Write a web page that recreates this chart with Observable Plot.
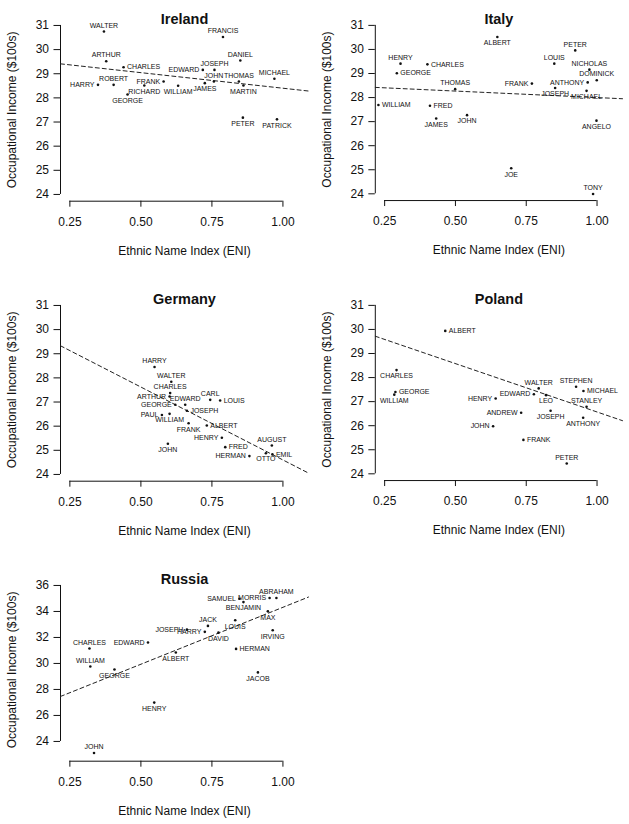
<!DOCTYPE html>
<html><head><meta charset="utf-8">
<script src="https://cdn.jsdelivr.net/npm/d3@7"></script>
<script src="https://cdn.jsdelivr.net/npm/@observablehq/plot@0.6"></script>
<style>
body{margin:0;background:#fff;font-family:"Liberation Sans",Arial,sans-serif;}
#grid{display:grid;grid-template-columns:315px 314px;grid-auto-rows:280px;width:629px;}
#grid svg{display:block;}
</style></head><body><div id="grid"></div>
<script>
// ---- data ----
const xTicks = [0.25, 0.5, 0.75, 1.0];
const yTicksMain = [24, 25, 26, 27, 28, 29, 30, 31];
const yTicksRussia = [24, 26, 28, 30, 32, 34, 36];

const countries = ["Ireland", "Italy", "Germany", "Poland", "Russia"];
const fitIntercept = [29.69, 28.54, 30.64, 30.59, 25.56];
const fitSlope = [-1.29, -0.54, -6.04, -4.02, 8.76];

const irelandNames = ["WALTER","FRANCIS","ARTHUR","DANIEL","CHARLES","EDWARD","JOSEPH","MICHAEL","HARRY","ROBERT","FRANK","RICHARD","WILLIAM","JAMES","JOHN","THOMAS","MARTIN","GEORGE","PETER","PATRICK"];
const irelandENI = [0.370,0.789,0.378,0.850,0.439,0.718,0.759,0.970,0.349,0.404,0.580,0.512,0.631,0.725,0.757,0.845,0.861,0.453,0.859,0.979];
const irelandIncome = [30.75,30.52,29.52,29.55,29.27,29.16,29.16,28.79,28.54,28.54,28.68,28.51,28.50,28.61,28.68,28.68,28.51,28.14,27.18,27.11];
const irelandLabelSide = ["a","a","a","a","r","l","a","a","l","a","l","b","b","b","a","a","b","b","b","b"];

const italyNames = ["ALBERT","PETER","HENRY","CHARLES","LOUIS","NICHOLAS","DOMINICK","GEORGE","ANTHONY","FRANK","THOMAS","JOSEPH","MICHAEL","WILLIAM","FRED","JOHN","JAMES","ANGELO","JOE","TONY"];
const italyENI = [0.648,0.923,0.306,0.401,0.849,0.973,0.999,0.293,0.967,0.770,0.499,0.852,0.963,0.228,0.410,0.541,0.432,0.998,0.697,0.986];
const italyIncome = [30.52,29.96,29.41,29.38,29.41,29.16,28.72,29.01,28.63,28.58,28.35,28.40,28.28,27.69,27.66,27.27,27.13,27.04,25.06,23.99];
const italyLabelSide = ["b","a","a","r","a","a","a","r","l","l","a","b","b","r","r","b","b","b","b","a"];

const germanyNames = ["HARRY","WALTER","CHARLES","ARTHUR","CARL","LOUIS","EDWARD","GEORGE","JOSEPH","WILLIAM","PAUL","FRANK","ALBERT","HENRY","JOHN","AUGUST","FRED","OTTO","EMIL","HERMAN"];
const germanyENI = [0.548,0.607,0.603,0.601,0.744,0.779,0.656,0.621,0.662,0.601,0.574,0.668,0.732,0.785,0.595,0.961,0.797,0.940,0.963,0.882];
const germanyIncome = [28.45,27.84,27.37,27.23,27.09,27.06,26.89,26.89,26.64,26.51,26.46,26.12,26.03,25.52,25.27,25.20,25.13,24.88,24.83,24.76];
const germanyLabelSide = ["a","a","a","l","a","r","a","l","r","b","l","b","r","l","b","a","r","b","r","l"];

const polandNames = ["ALBERT","CHARLES","GEORGE","WILLIAM","WALTER","STEPHEN","MICHAEL","EDWARD","LEO","HENRY","STANLEY","JOSEPH","ANDREW","ANTHONY","JOHN","FRANK","PETER"];
const polandENI = [0.464,0.292,0.288,0.284,0.794,0.926,0.952,0.777,0.820,0.642,0.963,0.836,0.732,0.951,0.633,0.740,0.893];
const polandIncome = [29.94,28.31,27.40,27.29,27.55,27.62,27.44,27.31,27.27,27.13,26.79,26.62,26.54,26.33,25.98,25.41,24.43];
const polandLabelSide = ["r","b","r","b","a","a","r","l","b","l","a","b","l","b","l","r","a"];

const russiaNames = ["ABRAHAM","MORRIS","SAMUEL","BENJAMIN","MAX","LOUIS","JACK","JOSEPH","HARRY","DAVID","IRVING","EDWARD","CHARLES","HERMAN","ALBERT","WILLIAM","GEORGE","JACOB","HENRY","JOHN"];
const russiaENI = [0.977,0.953,0.847,0.861,0.947,0.832,0.736,0.662,0.725,0.773,0.964,0.525,0.319,0.835,0.623,0.322,0.407,0.912,0.547,0.335];
const russiaIncome = [35.03,35.03,34.98,34.72,34.01,33.32,32.89,32.60,32.43,32.37,32.55,31.61,31.15,31.12,30.84,29.77,29.54,29.31,26.99,23.11];
const russiaLabelSide = ["a","l","l","b","b","b","a","l","l","b","b","l","a","r","b","a","b","b","b","a"];

// ---- drawing ----
const FONT = "'Liberation Sans', Arial, Helvetica, sans-serif";
const xDomain = [0.217, 1.09];

function panel(i, names, eni, income, side, yDomain, yTicks) {
  const data = names.map((n, k) => ({name: n, x: eni[k], y: income[k], side: side[k]}));
  const fit = xDomain.map(x => ({x, y: fitIntercept[i] + fitSlope[i] * x}));
  const tb = {x: "x", y: "y", text: "name", fontSize: 7, fill: "#111"};
  return Plot.plot({
    width: 315, height: 280,
    marginLeft: 60, marginRight: 7, marginTop: 18.2, marginBottom: 79.3,
    style: {fontFamily: FONT, background: "white", overflow: "visible", color: "#111"},
    x: {domain: xDomain},
    y: {domain: yDomain},
    marks: [
      Plot.axisX({ticks: xTicks, tickFormat: d3.format(".2f"), tickSize: 6, tickPadding: 10, fontSize: 12,
        label: "Ethnic Name Index (ENI)", labelAnchor: "center", labelArrow: "none", labelOffset: 54}),
      Plot.axisY({ticks: yTicks, tickFormat: d3.format("d"), tickSize: 6.5, tickPadding: 5, fontSize: 12,
        label: "Occupational Income ($100s)", labelAnchor: "center", labelArrow: "none", labelOffset: 53}),
      Plot.ruleX([xDomain[0]], {y1: yTicks[0], y2: yTicks[yTicks.length - 1], stroke: "#111"}),
      Plot.ruleY([yDomain[0]], {x1: xTicks[0], x2: xTicks[xTicks.length - 1], stroke: "#111"}),
      Plot.line(fit, {x: "x", y: "y", stroke: "#222", strokeWidth: 1, strokeDasharray: "4,3"}),
      Plot.dot(data, {x: "x", y: "y", r: 1.3, fill: "#111"}),
      Plot.text(data.filter(d => d.side === "a"), {...tb, dy: -6}),
      Plot.text(data.filter(d => d.side === "b"), {...tb, dy: 6}),
      Plot.text(data.filter(d => d.side === "l"), {...tb, textAnchor: "end", dx: -3.5}),
      Plot.text(data.filter(d => d.side === "r"), {...tb, textAnchor: "start", dx: 3.5}),
      Plot.text([countries[i]], {frameAnchor: "top", dy: -5, fontSize: 14.5, fontWeight: "bold", fill: "#111"})
    ]
  });
}

const grid = document.getElementById("grid");
const mainY = [23.72, 31.28];
grid.append(panel(0, irelandNames, irelandENI, irelandIncome, irelandLabelSide, mainY, yTicksMain));
grid.append(panel(1, italyNames, italyENI, italyIncome, italyLabelSide, mainY, yTicksMain));
grid.append(panel(2, germanyNames, germanyENI, germanyIncome, germanyLabelSide, mainY, yTicksMain));
grid.append(panel(3, polandNames, polandENI, polandIncome, polandLabelSide, mainY, yTicksMain));
grid.append(panel(4, russiaNames, russiaENI, russiaIncome, russiaLabelSide, [22.48, 36.52], yTicksRussia));
</script></body></html>
